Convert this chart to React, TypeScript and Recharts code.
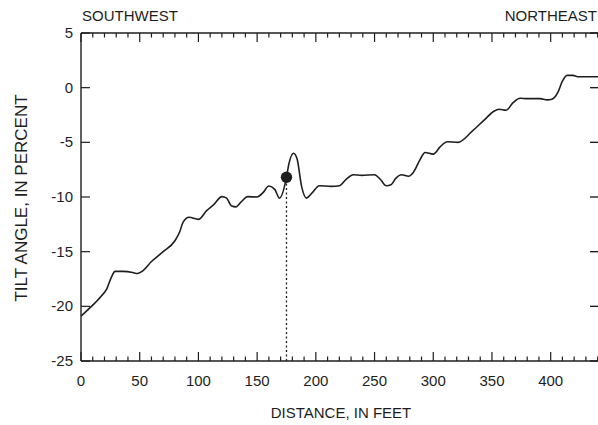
import {
  ComposedChart,
  Line,
  ReferenceDot,
  ReferenceLine,
  XAxis,
  YAxis,
} from "recharts";

// distance along the profile, in feet, and tilt angle in percent
const distanceFt = [
  0, 8, 17, 22, 26, 29, 36, 44, 48, 52, 60, 70, 80, 84, 87, 92, 100, 107, 113, 120,
  124, 128, 132, 136, 142, 150, 155, 160, 165, 169, 175, 177, 181, 184, 188, 192, 197,
  203, 213, 220, 226, 232, 239, 250, 255, 260, 264, 268, 273, 279, 283, 289, 293, 300,
  306, 312, 321, 333, 344, 352, 356, 362, 368, 374, 380, 391, 397, 401, 406, 410, 414,
  419, 423, 442,
];
const tiltPct = [
  -20.9, -20.1, -19.1, -18.4, -17.3, -16.8, -16.8, -16.9, -17.0, -16.8, -15.9, -15.0,
  -14.0, -13.2, -12.3, -11.85, -12.05, -11.25, -10.7, -9.97, -10.1, -10.8, -10.9, -10.5,
  -9.97, -10.0, -9.6, -9.0, -9.3, -10.1, -8.2, -7.0, -6.0, -6.5, -9.1, -10.1, -9.6,
  -8.97, -9.03, -8.97, -8.36, -7.96, -8.02, -7.96, -8.4, -8.97, -8.88, -8.3, -7.96,
  -8.1, -7.75, -6.53, -5.93, -6.08, -5.4, -4.95, -5.0, -4.0, -2.9, -2.13, -1.98, -2.07,
  -1.37, -0.97, -1.0, -1.0, -1.12, -1.06, -0.46, 0.6, 1.12, 1.12, 1.0, 1.0,
];

// marked point and where its dotted drop line ends
const markFt = 175;
const markTilt = -8.2;

const xTicks = [
  0, 10, 20, 30, 40, 50, 60, 70, 80, 90, 100, 110, 120, 130, 140, 150, 160, 170, 180,
  190, 200, 210, 220, 230, 240, 250, 260, 270, 280, 290, 300, 310, 320, 330, 340, 350,
  360, 370, 380, 390, 400, 410, 420, 430, 440,
];
const xLabelTicks = [0, 50, 100, 150, 200, 250, 300, 350, 400];
const yTicks = [5, 0, -5, -10, -15, -20, -25];

const FONT = '"Liberation Sans", Arial, Helvetica, sans-serif';
const INK = "#1e1e1e";

const profile = distanceFt.map((ft, i) => ({ ft, tilt: tiltPct[i] }));

type TickProps = { x: number; y: number; payload: { value: number } };

function BottomTick({ x, y, payload }: TickProps) {
  const major = payload.value % 50 === 0;
  return (
    <g>
      <line x1={x} x2={x} y1={y} y2={y - (major ? 9 : 4.5)} stroke={INK} strokeWidth={1.2} />
      {xLabelTicks.includes(payload.value) && (
        <text x={x} y={y + 25} textAnchor="middle" fontSize={15} fontFamily={FONT} fill={INK}>
          {payload.value}
        </text>
      )}
    </g>
  );
}

function TopTick({ x, y, payload }: TickProps) {
  const major = payload.value % 50 === 0;
  return <line x1={x} x2={x} y1={y} y2={y + (major ? 9 : 4.5)} stroke={INK} strokeWidth={1.2} />;
}

function LeftTick({ x, y, payload }: TickProps) {
  return (
    <g>
      <line x1={x} x2={x + 9} y1={y} y2={y} stroke={INK} strokeWidth={1.2} />
      <text x={x - 8} y={y + 5} textAnchor="end" fontSize={15} fontFamily={FONT} fill={INK}>
        {payload.value}
      </text>
    </g>
  );
}

function RightTick({ x, y }: TickProps) {
  return <line x1={x} x2={x - 10} y1={y} y2={y} stroke={INK} strokeWidth={1.4} />;
}

export default function App() {
  return (
    <div style={{ width: 598, height: 425, overflow: "hidden" }}>
      <style>{"body{margin:0}"}</style>
      <ComposedChart
        width={608}
        height={425}
        data={profile}
        margin={{ top: 32, right: 7, bottom: 0, left: 0 }}
      >
        <XAxis
          xAxisId="bottom"
          dataKey="ft"
          type="number"
          domain={[0, 442]}
          ticks={xTicks}
          interval={0}
          orientation="bottom"
          height={64}
          tickSize={0}
          tickMargin={0}
          tickLine={false}
          axisLine={{ stroke: INK, strokeWidth: 1.4 }}
          tick={(p: TickProps) => <BottomTick {...p} />}
          allowDataOverflow
        />
        <XAxis
          xAxisId="top"
          dataKey="ft"
          type="number"
          domain={[0, 442]}
          ticks={xTicks}
          interval={0}
          orientation="top"
          height={1}
          tickSize={0}
          tickMargin={0}
          tickLine={false}
          axisLine={{ stroke: INK, strokeWidth: 1.4 }}
          tick={(p: TickProps) => <TopTick {...p} />}
          allowDataOverflow
        />
        <YAxis
          yAxisId="left"
          type="number"
          domain={[-25, 5]}
          ticks={yTicks}
          interval={0}
          width={81}
          tickSize={0}
          tickMargin={0}
          tickLine={false}
          axisLine={{ stroke: INK, strokeWidth: 1.4 }}
          tick={(p: TickProps) => <LeftTick {...p} />}
          allowDataOverflow
        />
        <YAxis
          yAxisId="right"
          orientation="right"
          type="number"
          domain={[-25, 5]}
          ticks={yTicks}
          interval={0}
          width={1}
          tickSize={0}
          tickMargin={0}
          tickLine={false}
          axisLine={{ stroke: INK, strokeWidth: 1.4 }}
          tick={(p: TickProps) => <RightTick {...p} />}
          allowDataOverflow
        />
        {/* keeps the top / right axes tied to the same data range */}
        <Line
          xAxisId="top"
          yAxisId="right"
          dataKey="tilt"
          stroke="none"
          dot={false}
          activeDot={false}
          isAnimationActive={false}
        />
        <ReferenceLine
          xAxisId="bottom"
          yAxisId="left"
          segment={[
            { x: markFt, y: -25 },
            { x: markFt, y: markTilt },
          ]}
          stroke={INK}
          strokeWidth={1.3}
          strokeDasharray="2 2.5"
        />
        <Line
          xAxisId="bottom"
          yAxisId="left"
          type="monotone"
          dataKey="tilt"
          stroke={INK}
          strokeWidth={1.6}
          dot={false}
          activeDot={false}
          isAnimationActive={false}
        />
        <ReferenceDot
          xAxisId="bottom"
          yAxisId="left"
          x={markFt}
          y={markTilt}
          r={5.7}
          fill={INK}
          stroke="none"
        />
        <text x={82} y={21} fontSize={15} fontFamily={FONT} fill={INK}>
          SOUTHWEST
        </text>
        <text x={597} y={21} textAnchor="end" fontSize={15} fontFamily={FONT} fill={INK}>
          NORTHEAST
        </text>
        <text x={341} y={418} textAnchor="middle" fontSize={15} fontFamily={FONT} fill={INK}>
          DISTANCE, IN FEET
        </text>
        <text
          x={27}
          y={198}
          transform="rotate(-90, 27, 198)"
          textAnchor="middle"
          fontSize={17}
          fontFamily={FONT}
          fill={INK}
        >
          TILT ANGLE, IN PERCENT
        </text>
      </ComposedChart>
    </div>
  );
}
